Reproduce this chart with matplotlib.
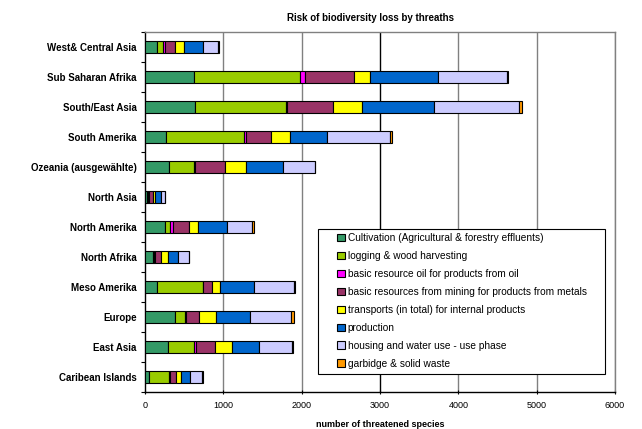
import numpy as np
import matplotlib
matplotlib.use("Agg")
import matplotlib.pyplot as plt
from matplotlib.patches import Rectangle

plt.rcParams['font.family'] = ['Liberation Sans', 'DejaVu Sans']

regions = ["West& Central Asia", "Sub Saharan Afrika", "South/East Asia", "South Amerika",
           "Ozeania (ausgewählte)", "North Asia", "North Amerika", "North Afrika",
           "Meso Amerika", "Europe", "East Asia", "Caribean Islands"]

labels = ["Cultivation (Agricultural & forestry effluents)",
          "logging & wood harvesting",
          "basic resource oil for products from oil",
          "basic resources from mining for products from metals",
          "transports (in total) for internal products",
          "production",
          "housing and water use - use phase",
          "garbidge & solid waste"]

cultivation = [149, 630, 634, 264, 302, 21, 255, 98, 149, 379, 289, 51]
logging = [77, 1345, 1166, 1005, 324, 21, 68, 21, 587, 132, 341, 255]
oil = [26, 64, 15, 26, 15, 15, 34, 10, 10, 10, 15, 10]
mining = [128, 626, 587, 307, 375, 51, 200, 77, 111, 162, 243, 77]
transports = [115, 209, 366, 251, 268, 21, 119, 81, 98, 217, 217, 60]
production = [243, 864, 915, 464, 473, 75, 375, 136, 430, 434, 353, 119]
housing = [192, 877, 1094, 813, 409, 47, 315, 136, 511, 524, 417, 149]
garbage = [13, 21, 30, 26, 0, 0, 21, 0, 17, 43, 13, 17]

series = [cultivation, logging, oil, mining, transports, production, housing, garbage]
colors = ["#339966", "#99CC00", "#FF00FF", "#993366", "#FFFF00", "#0066CC", "#CCCCFF", "#FF9900"]

fig = plt.figure(figsize=(6.42, 4.29), dpi=100)
ax = fig.add_axes([0.2259, 0.0862, 0.958 - 0.2259, 0.9254 - 0.0862])

y = np.arange(len(regions))
left = np.zeros(len(regions))
for vals, col, lab in zip(series, colors, labels):
    ax.barh(y, vals, left=left, height=0.4, color=col, edgecolor="black",
            linewidth=0.8, label=lab, zorder=3)
    left += np.array(vals)

ax.set_xlim(0, 6000)
ax.set_ylim(len(regions) - 0.5, -0.5)
ax.set_xticks(range(0, 6001, 1000))
ax.tick_params(axis="x", labelsize=6.5, length=3, direction="inout", width=0.8, pad=5)
ax.set_yticks(y)
ax.set_yticklabels(regions, fontsize=7, fontweight="bold")
ax.tick_params(axis="y", length=0, pad=6)
ax.set_yticks(np.arange(-0.5, len(regions)), minor=True)
ax.tick_params(axis="y", which="minor", length=3, width=0.8)

for xv in range(1000, 6001, 1000):
    ax.axvline(xv, color="black" if xv == 3000 else "#808080", linewidth=1.0, zorder=1)

for s in ["top", "right"]:
    ax.spines[s].set_color("#808080")
    ax.spines[s].set_linewidth(1.0)
for s in ["left", "bottom"]:
    ax.spines[s].set_color("black")
    ax.spines[s].set_linewidth(1.0)

ax.set_title("Risk of biodiversity loss by threaths", fontsize=7, fontweight="bold", pad=8, x=0.48)
ax.set_xlabel("number of threatened species", fontsize=6.5, fontweight="bold", labelpad=7)

# legend box drawn separately so it gets the wide padding of the original
box = Rectangle((0.368, 0.05), 0.6106, 0.4028, transform=ax.transAxes,
                facecolor="white", edgecolor="black", linewidth=0.8, zorder=4)
ax.add_patch(box)
leg = ax.legend(loc="upper left", bbox_to_anchor=(0.4085, 0.441), fontsize=7.3,
                frameon=False, handlelength=0.75, handleheight=0.75, handletextpad=0.3,
                labelspacing=0.78, borderpad=0, borderaxespad=0)
leg.set_zorder(5)

fig.savefig("out.png", dpi=100)
